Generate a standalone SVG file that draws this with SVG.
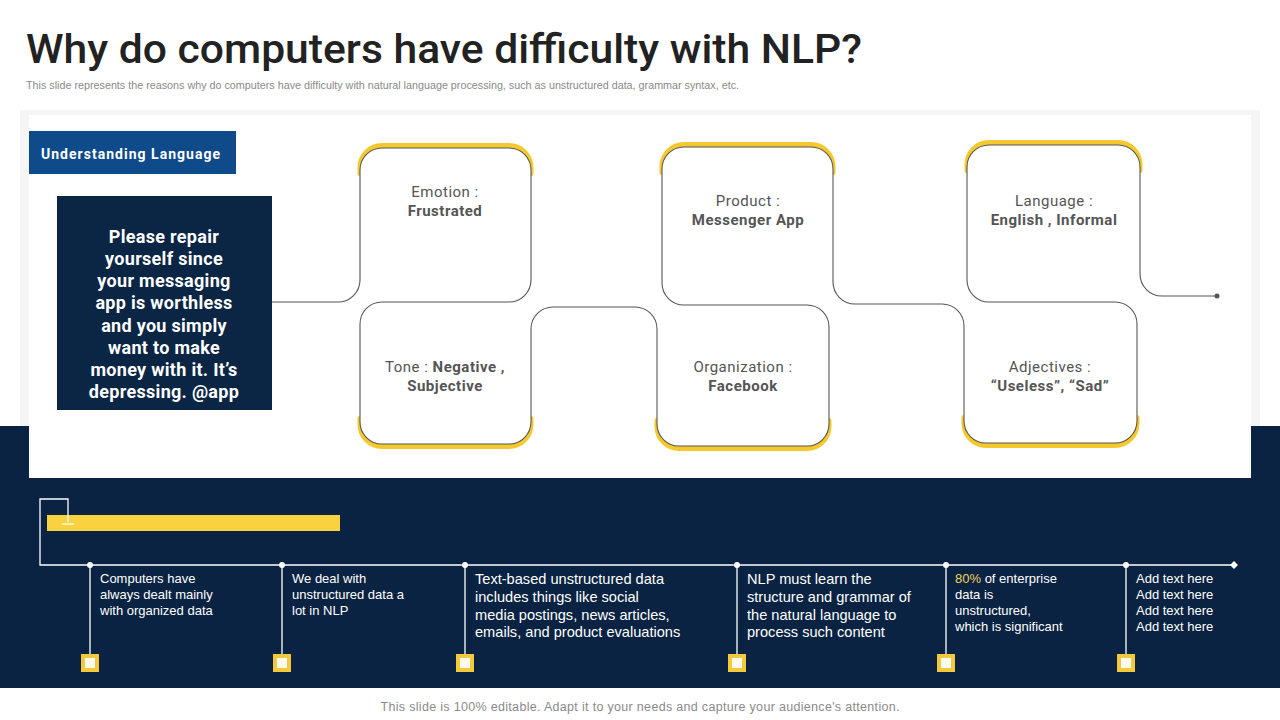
<svg xmlns="http://www.w3.org/2000/svg" width="1280" height="720" viewBox="0 0 1280 720">
<style>
.node-t{font-family:Roboto,"Noto Sans",sans-serif;font-size:15px;fill:#555;text-anchor:middle;letter-spacing:0.5px}
.b{font-weight:bold}
.yl{fill:none;stroke:#F4C92E;stroke-width:5;stroke-linecap:round}
.bx{fill:#fff}
.tl{font-family:"Liberation Sans",Arial,sans-serif;fill:#fff}
.s{font-size:13px}
.m{font-size:14.6px}
.wl{stroke:#fff;stroke-width:1.3;fill:none}
</style>
<rect width="1280" height="720" fill="#fff"/>
<rect x="20" y="110" width="1240" height="316" fill="#F5F5F5"/>
<rect x="0" y="426" width="1280" height="262" fill="#0A2342"/>
<rect x="29" y="115" width="1222" height="363" fill="#fff"/>

<text x="26" y="63" font-family="Roboto,'Noto Sans',sans-serif" font-size="41" font-weight="500" fill="#222" textLength="836" lengthAdjust="spacingAndGlyphs">Why do computers have difficulty with NLP?</text>
<text x="26" y="89" font-family="'Liberation Sans',Arial,sans-serif" font-size="10" fill="#8a8a8a" textLength="713" lengthAdjust="spacingAndGlyphs">This slide represents the reasons why do computers have difficulty with natural language processing, such as unstructured data, grammar syntax, etc.</text>

<g id="understanding">
<rect x="29" y="131" width="207" height="43" fill="#0F4A8A"/>
<text x="41" y="159" font-family="Roboto,'Noto Sans',sans-serif" font-size="14" font-weight="bold" fill="#fff" textLength="179" lengthAdjust="spacing">Understanding Language</text>
</g>

<g id="quote">
<rect x="57" y="196" width="215" height="214" fill="#0B2545"/>
<g font-family="Roboto,'Noto Sans',sans-serif" font-size="18" font-weight="bold" fill="#fff" text-anchor="middle" letter-spacing="0.3">
<text x="164" y="243">Please repair</text>
<text x="164" y="265">yourself since</text>
<text x="164" y="287">your messaging</text>
<text x="164" y="309">app is worthless</text>
<text x="164" y="332">and you simply</text>
<text x="164" y="354">want to make</text>
<text x="164" y="376">money with it. It’s</text>
<text x="164" y="398">depressing. @app</text>
</g>
</g>

<g id="yellow-accents">
<path class="yl" transform="translate(0,-2.5)" d="M360,176 V170 A22 22 0 0 1 382 148 H509 A22 22 0 0 1 531 170 V176"/>
<path class="yl" transform="translate(0,2.5)" d="M360,416 V422 A22 22 0 0 0 382 444 H509 A22 22 0 0 0 531 422 V416"/>
<path class="yl" transform="translate(0,-2.5)" d="M662,175 V169 A22 22 0 0 1 684 147 H811 A22 22 0 0 1 833 169 V175"/>
<path class="yl" transform="translate(0,2.5)" d="M657,418 V424 A22 22 0 0 0 679 446 H807 A22 22 0 0 0 829 424 V418"/>
<path class="yl" transform="translate(0,-2.5)" d="M967,173 V167 A22 22 0 0 1 989 145 H1118 A22 22 0 0 1 1140 167 V173"/>
<path class="yl" transform="translate(0,2.5)" d="M964,415 V421 A22 22 0 0 0 986 443 H1115 A22 22 0 0 0 1137 421 V415"/>
</g>

<g id="emotion"><rect class="bx" x="360" y="148" width="171" height="154" rx="22"/>
<text class="node-t" x="445" y="197">Emotion :</text><text class="node-t b" x="445" y="216">Frustrated</text></g>
<g id="tone"><rect class="bx" x="360" y="302" width="171" height="142" rx="22"/>
<text class="node-t" x="445" y="372">Tone : <tspan class="b">Negative ,</tspan></text><text class="node-t b" x="445" y="391">Subjective</text></g>
<g id="product"><rect class="bx" x="662" y="147" width="171" height="158" rx="22"/>
<text class="node-t" x="748" y="206">Product :</text><text class="node-t b" x="748" y="225">Messenger App</text></g>
<g id="organization"><rect class="bx" x="657" y="305" width="172" height="141" rx="22"/>
<text class="node-t" x="743" y="372">Organization :</text><text class="node-t b" x="743" y="391">Facebook</text></g>
<g id="language"><rect class="bx" x="967" y="145" width="173" height="157" rx="22"/>
<text class="node-t" x="1054" y="206">Language :</text><text class="node-t b" x="1054" y="225">English , Informal</text></g>
<g id="adjectives"><rect class="bx" x="964" y="302" width="173" height="141" rx="22"/>
<text class="node-t" x="1050" y="372">Adjectives :</text><text class="node-t b" x="1050" y="391">“Useless”, “Sad”</text></g>

<g id="connectors">
<path fill="none" stroke="#555" stroke-width="1.1" d="M272,302 H338 A22 22 0 0 0 360 280 V170 A22 22 0 0 1 382 148 H509 A22 22 0 0 1 531 170 V280 A22 22 0 0 1 509 302 H382 A22 22 0 0 0 360 324 V422 A22 22 0 0 0 382 444 H509 A22 22 0 0 0 531 422 V329 A22 22 0 0 1 553 307 H635 A22 22 0 0 1 657 329 V424 A22 22 0 0 0 679 446 H807 A22 22 0 0 0 829 424 V327 A22 22 0 0 0 807 305 H684 A22 22 0 0 1 662 283 V169 A22 22 0 0 1 684 147 H811 A22 22 0 0 1 833 169 V282 A22 22 0 0 0 855 304 H942 A22 22 0 0 1 964 326 V421 A22 22 0 0 0 986 443 H1115 A22 22 0 0 0 1137 421 V324 A22 22 0 0 0 1115 302 H989 A22 22 0 0 1 967 280 V167 A22 22 0 0 1 989 145 H1118 A22 22 0 0 1 1140 167 V274 A22 22 0 0 0 1162 296 H1217"/>
<circle cx="1217" cy="296" r="2.5" fill="#555"/>
</g>

<g id="timeline">
<rect x="47" y="515" width="293" height="16" fill="#F9D33F"/>
<path class="wl" d="M68,522 V499 H40 V565 H1234"/>
<path class="wl" d="M62,524 H74"/>
<path d="M1234,561 L1238,565 L1234,569 L1230,565 Z" fill="#fff"/>
<g fill="#fff">
<circle cx="90" cy="565" r="3"/><circle cx="282" cy="565" r="3"/><circle cx="465" cy="565" r="3"/>
<circle cx="737" cy="565" r="3"/><circle cx="946" cy="565" r="3"/><circle cx="1126" cy="565" r="3"/>
</g>
<path class="wl" d="M90,565 V655 M282,565 V655 M465,565 V655 M737,565 V655 M946,565 V655 M1126,565 V655"/>
<g fill="#F4C93B">
<rect x="81" y="654" width="18" height="18"/><rect x="273" y="654" width="18" height="18"/><rect x="456" y="654" width="18" height="18"/>
<rect x="728" y="654" width="18" height="18"/><rect x="937" y="654" width="18" height="18"/><rect x="1117" y="654" width="18" height="18"/>
</g>
<g fill="#FDFBF0">
<rect x="85" y="658" width="10" height="10"/><rect x="277" y="658" width="10" height="10"/><rect x="460" y="658" width="10" height="10"/>
<rect x="732" y="658" width="10" height="10"/><rect x="941" y="658" width="10" height="10"/><rect x="1121" y="658" width="10" height="10"/>
</g>
</g>

<g id="item1" class="tl s"><text x="100" y="583">Computers  have</text><text x="100" y="599">always dealt mainly</text><text x="100" y="615">with organized data</text></g>
<g id="item2" class="tl s"><text x="292" y="583">We deal with</text><text x="292" y="599">unstructured data a</text><text x="292" y="615">lot in NLP</text></g>
<g id="item3" class="tl m"><text x="475" y="584">Text-based unstructured data</text><text x="475" y="602">includes things like social</text><text x="475" y="620">media postings, news articles,</text><text x="475" y="637">emails, and product evaluations</text></g>
<g id="item4" class="tl m"><text x="747" y="584">NLP must learn the</text><text x="747" y="602">structure and grammar of</text><text x="747" y="620">the natural language to</text><text x="747" y="637">process such content</text></g>
<g id="item5" class="tl s"><text x="955" y="583"><tspan fill="#F4D35E">80%</tspan>  of enterprise</text><text x="955" y="599">data is</text><text x="955" y="615">unstructured,</text><text x="955" y="631">which is significant</text></g>
<g id="item6" class="tl s"><text x="1136" y="583">Add text here</text><text x="1136" y="599">Add text here</text><text x="1136" y="615">Add text here</text><text x="1136" y="631">Add text here</text></g>

<text x="640" y="711" text-anchor="middle" font-family="'Liberation Sans',Arial,sans-serif" font-size="12.5" fill="#8a8a8a" textLength="519" lengthAdjust="spacing">This slide is 100% editable. Adapt it to your needs and capture your audience's attention.</text>
</svg>
